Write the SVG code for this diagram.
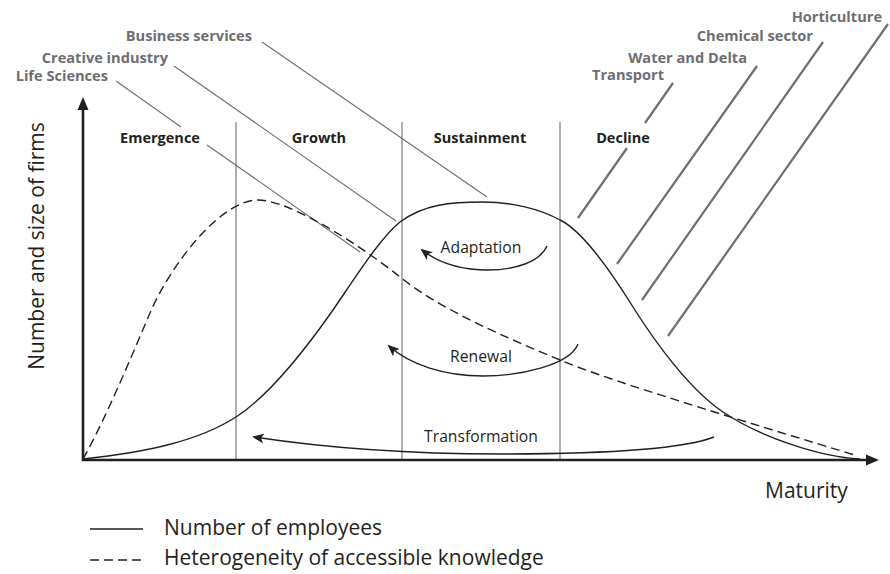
<svg xmlns="http://www.w3.org/2000/svg" width="890" height="574" viewBox="0 0 890 574">
  <defs>
    <style>
      text { font-family: "Open Sans", "Noto Sans", "Liberation Sans", sans-serif; fill: #231f20; }
      .sector { font-size: 14.6px; font-weight: 700; fill: #6d6e71; text-anchor: end; }
      .stage { font-size: 14.5px; font-weight: 700; text-anchor: middle; }
      .cyc { font-size: 15.7px; text-anchor: middle; }
      .big { font-size: 21px; }
      .lead { stroke: #6d6e71; stroke-width: 1.1; fill: none; }
      .leadthick { stroke: #6d6e71; stroke-width: 2.2; fill: none; }
      .divider { stroke: #6f6f6f; stroke-width: 1.1; }
      .axis { stroke: #231f20; stroke-width: 2.6; fill: none; }
      .curve { stroke: #231f20; stroke-width: 1.4; fill: none; }
      .dashed { stroke-dasharray: 9 5; }
      .arc { stroke: #231f20; stroke-width: 1.4; fill: none; marker-end: url(#head); }
    </style>
    <marker id="head" viewBox="0 0 12 10" refX="10" refY="5" markerWidth="12" markerHeight="10" markerUnits="userSpaceOnUse" orient="auto">
      <path d="M0,0 L12,5 L0,10 L3,5 z" fill="#231f20"/>
    </marker>
  </defs>

  <rect width="890" height="574" fill="#ffffff"/>

  <!-- stage dividers -->
  <g id="dividers">
    <line class="divider" x1="236" y1="122" x2="236" y2="460"/>
    <line class="divider" x1="402" y1="122" x2="402" y2="460"/>
    <line class="divider" x1="560" y1="122" x2="560" y2="460" stroke="#231f20"/>
  </g>

  <!-- stage labels -->
  <g id="stages">
    <text class="stage" x="160" y="143">Emergence</text>
    <text class="stage" x="319" y="143">Growth</text>
    <text class="stage" x="480" y="143">Sustainment</text>
    <text class="stage" x="623" y="143">Decline</text>
  </g>

  <!-- sector labels and leader lines -->
  <g id="sectors">
    <text class="sector" x="252" y="41">Business services</text>
    <text class="sector" x="168" y="63">Creative industry</text>
    <text class="sector" x="108" y="81">Life Sciences</text>
    <text class="sector" x="882" y="22">Horticulture</text>
    <text class="sector" x="813" y="41">Chemical sector</text>
    <text class="sector" x="747" y="63">Water and Delta</text>
    <text class="sector" x="664" y="80">Transport</text>
  </g>
  <g id="leaders">
    <line class="lead" x1="262" y1="42" x2="487" y2="197"/>
    <line class="lead" x1="174" y1="66" x2="396" y2="221"/>
    <line class="lead" x1="116" y1="81" x2="181" y2="127"/>
    <line class="lead" x1="207" y1="145" x2="360" y2="252"/>
    <line class="leadthick" x1="673" y1="83" x2="645" y2="123"/>
    <line class="leadthick" x1="627" y1="148" x2="578" y2="218"/>
    <line class="leadthick" x1="757" y1="66" x2="617" y2="264"/>
    <line class="leadthick" x1="823" y1="42" x2="642" y2="300"/>
    <line class="leadthick" x1="888" y1="24" x2="668" y2="336"/>
  </g>

  <!-- curves -->
  <g id="curves">
    <path id="employees" class="curve" d="M83,459 C150,452 200,440 236,417 C270,395 305,350 333,310 C355,278 380,238 400,222 C424,204 452,202 483,202 C512,202 540,209 560,220 C585,232 615,278 633,307 C655,342 690,390 723,412 C760,437 820,457 860,459"/>
    <path id="knowledge" class="curve dashed" d="M83,459 C105,420 130,360 150,313 C170,266 220,200 258,200 C290,200 360,245 400,277 C440,309 500,335 560,360 C600,377 700,408 858,456"/>
  </g>

  <!-- axes -->
  <g id="axes">
    <polyline class="axis" points="83,108 83,460 866,460"/>
    <polygon points="83,97 77.5,110 88.5,110" fill="#231f20"/>
    <polygon points="879,460 866,454.5 866,465.5" fill="#231f20"/>
    <text class="big" transform="translate(44,246) rotate(-90)" text-anchor="middle">Number and size of firms</text>
    <text class="big" x="765" y="498">Maturity</text>
  </g>

  <!-- renewal cycles -->
  <g id="adaptation">
    <path class="arc" d="M547,246 C540,262 515,270 488,270 C462,270 440,264 422,250"/>
    <text class="cyc" x="481" y="253">Adaptation</text>
  </g>
  <g id="renewal">
    <path class="arc" d="M578,344 C570,365 520,376 483,376 C445,376 410,365 389,346"/>
    <text class="cyc" x="481" y="362">Renewal</text>
  </g>
  <g id="transformation">
    <path class="arc" d="M714,437 C680,450 600,454 500,454 C400,454 320,447 254,437"/>
    <text class="cyc" x="481" y="442">Transformation</text>
  </g>

  <!-- legend -->
  <g id="legend">
    <line class="curve" x1="90" y1="529" x2="143" y2="529"/>
    <text class="big" x="164" y="535">Number of employees</text>
    <line class="curve dashed" x1="90" y1="560" x2="143" y2="560" stroke-dasharray="10 4.5"/>
    <text class="big" x="164" y="565">Heterogeneity of accessible knowledge</text>
  </g>
</svg>
